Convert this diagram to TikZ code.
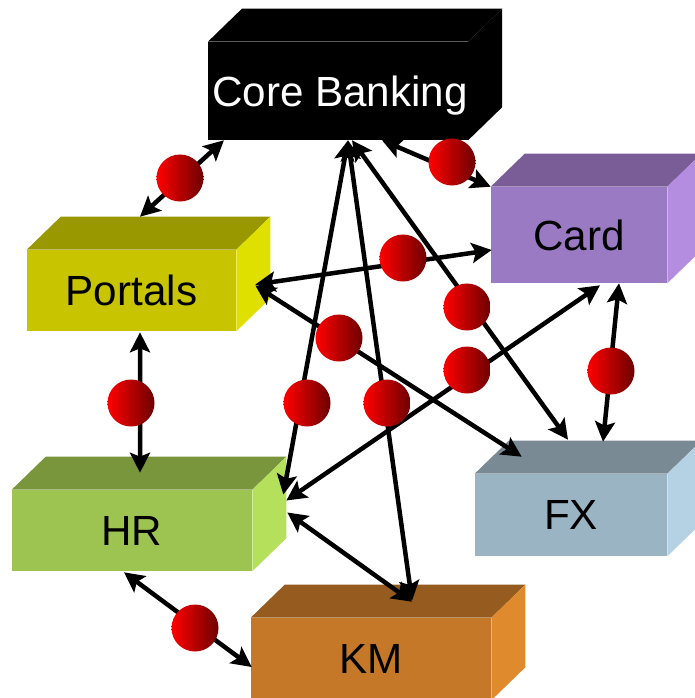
\documentclass[tikz,border=0pt]{standalone}
\usepackage{fontspec}
\setmainfont{Liberation Sans}
\usetikzlibrary{arrows.meta, calc}
\usepackage{xcolor}

\definecolor{cardfront}{RGB}{155,122,196}
\definecolor{cardtop}{RGB}{122,92,150}
\definecolor{cardside}{RGB}{180,140,224}
\definecolor{portalfront}{RGB}{200,196,0}
\definecolor{portaltop}{RGB}{153,152,0}
\definecolor{portalside}{RGB}{224,224,0}
\definecolor{hrfront}{RGB}{157,195,80}
\definecolor{hrtop}{RGB}{121,150,61}
\definecolor{hrside}{RGB}{181,224,92}
\definecolor{kmfront}{RGB}{196,120,40}
\definecolor{kmtop}{RGB}{149,91,31}
\definecolor{kmside}{RGB}{224,138,46}
\definecolor{fxfront}{RGB}{154,180,196}
\definecolor{fxtop}{RGB}{122,138,148}
\definecolor{fxside}{RGB}{180,210,228}

\tikzset{
    box/.style={inner sep=0pt, text depth=0pt, font=\fontsize{30}{36}\selectfont},
    ball/.style={circle, minimum size=1.175cm, inner sep=0pt, left color=red, right color=red!43!black},
    link/.style={{Stealth[length=5mm,width=5mm,inset=1mm]}-{Stealth[length=5mm,width=5mm,inset=1mm]}, line width=3.2pt},
}

% top and side of a box, from the front face #1
\newcommand{\cuboid}[3]{%
    \fill[#2] (#1.north west) -- ++(34,-33) -- ($(#1.north east)+(34,-33)$) -- (#1.north east) -- cycle;
    \fill[#3] (#1.north east) -- ++(34,-33) -- ($(#1.south east)+(34,-33)$) -- (#1.south east) -- cycle;}

\begin{document}
\begin{tikzpicture}[x=0.025cm, y=-0.025cm]
        \useasboundingbox (0,0) rectangle (695,698);

        % Front faces
        \node[box, fill=black, text=white, minimum width=6cm, minimum height=2.45cm] (core) at (338,91) {\hspace*{0.1cm}Core Banking};
        \node[box, fill=cardfront, minimum width=4.4cm, minimum height=2.4cm] (card) at (579,235) {Card};
        \node[box, fill=portalfront, minimum width=5.225cm, minimum height=2.025cm] (portals) at (131.5,290.5) {Portals};
        \node[box, fill=hrfront, minimum width=6cm, minimum height=2.025cm] (hr) at (132,530.5) {HR};
        \node[box, fill=kmfront, minimum width=6cm, minimum height=2.05cm] (km) at (371,659) {KM};
        \node[box, fill=fxfront, minimum width=4.8cm, minimum height=2.05cm] (fx) at (571,515) {FX};

        % Tops and sides
        \cuboid{core}{black}{black}
        \cuboid{card}{cardtop}{cardside}
        \cuboid{portals}{portaltop}{portalside}
        \cuboid{hr}{hrtop}{hrside}
        \cuboid{km}{kmtop}{kmside}
        \cuboid{fx}{fxtop}{fxside}

        % Links
        \draw[link] ($(core.south west)+(16,0)$) -- ($(portals.north)+(8.5,-33)$);
        \draw[link] ($(core.south)+(44,0)$) -- (card.north west);
        \draw[link] ($(portals.east)+(19,-6)$) -- ($(card.west)+(1,15)$);
        \draw[link] ($(portals.south)+(8.5,1)$) -- ($(hr.north)+(8,-17)$);
        \draw[link] ($(card.south)+(40,0)$) -- ($(fx.north)+(32,-32)$);
        \draw[link] ($(core.south)+(10,0)$) -- ($(hr.east)+(31,-36)$);
        \draw[link] ($(card.south)+(21,2)$) -- ($(hr.east)+(34,-30)$);
        \draw[link] ($(hr.east)+(35,-18)$) -- ($(km.north)+(41,-16)$);
        \draw[link] ($(core.south)+(10,0)$) -- ($(km.north)+(41,-17)$);
        \draw[link] ($(core.south)+(14,0)$) -- ($(fx.north)+(-3,-34)$);
        \draw[link] ($(portals.east)+(19,-5)$) -- ($(fx.north west)+(47,-17)$);
        \draw[link] ($(hr.south)+(-8,1)$) -- ($(km.west)+(1,8)$);

        % Balls on the links
        \foreach \n/\p in {bcp/{(180,178)}, bcc/{(452,162)}, bpc/{(403,258)}, bcf/{(467,307)},
                           bpf/{(339,338)}, bch/{(467,370)}, bcfx/{(611,371)}, bph/{(131,403)},
                           bhr/{(307,403)}, bkm/{(387,403)}, bhk/{(195,628)}}
            \node[ball] (\n) at \p {};

\end{tikzpicture}
\end{document}
